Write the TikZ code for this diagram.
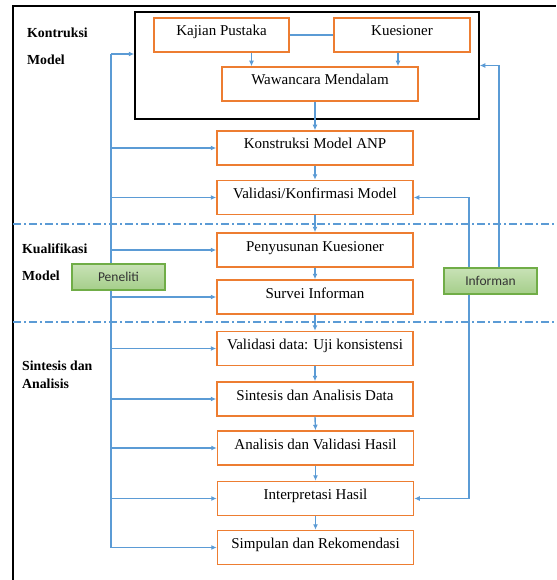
\documentclass[tikz,border=0pt]{standalone}
\usepackage{fontspec}
\setmainfont{Liberation Serif}
\newfontfamily\calib{Carlito}
\usetikzlibrary{arrows.meta}
\definecolor{orng}{RGB}{237,125,49}
\definecolor{blu}{RGB}{91,155,213}
\definecolor{grnb}{RGB}{112,173,71}
\definecolor{grnt}{RGB}{200,226,182}
\definecolor{grnm}{RGB}{165,206,138}
\tikzset{
  box/.style={draw=orng, line width=1.5pt, fill=white, minimum height=34pt, minimum width=196pt,
    inner xsep=2pt, inner ysep=0pt, text height=12pt, text depth=10pt,
    font=\fontsize{15}{17}\selectfont},
  gbox/.style={draw=grnb, line width=1.2pt, top color=grnt, bottom color=grnm,
    minimum width=93pt, minimum height=26pt, inner sep=0pt,
    font=\calib\fontsize{13.5}{15}\selectfont, text=black!80},
  lab/.style={anchor=base west, inner sep=0pt, font=\bfseries\fontsize{13.8}{15}\selectfont},
  bline/.style={draw=blu, line width=1.4pt},
  arr/.style={bline, -{Latex[length=5.5pt,width=5pt]}},
  sepline/.style={draw=blu, line width=1.1pt, dash pattern=on 8pt off 3pt on 2pt off 3pt}
}
\begin{document}
\begin{tikzpicture}[x=1pt,y=-1pt]
\useasboundingbox (0,0) rectangle (556,580);
% outer frame
\draw[line width=1.5pt] (13,580) -- (13,6) -- (556,6);
% separators
\draw[sepline] (13,224) -- (556,224);
\draw[sepline] (13,322) -- (556,322);
% labels
\node[lab] (l1) at (27,38) {Kontruksi};
\node[lab] (l2) at (27,65) {Model};
\node[lab] (l3) at (22,253) {Kualifikasi};
\node[lab] (l4) at (22,280) {Model};
\node[lab] (l5) at (22,370) {Sintesis dan};
\node[lab] (l6) at (22,388) {Analisis};
% inner box
\node[draw, line width=1.5pt, minimum width=344pt, minimum height=107pt, inner sep=0pt] (inner) at (307,65.5) {};
\node[box, minimum width=135pt] (kaj) at (221.5,35) {Kajian Pustaka};
\node[box, minimum width=136pt] (kues) at (402,35) {Kuesioner};
\node[box] (waw) at (320,84) {Wawancara Mendalam};
\draw[bline] (kaj.east) -- (kues.west);
\draw[arr] ([xshift=30pt]kaj.south) -- ([xshift=30pt]kaj.south |- waw.north);
\draw[arr] ([xshift=-4pt]kues.south) -- ([xshift=-4pt]kues.south |- waw.north);
% main column
\node[box] (konst) at (315,148) {Konstruksi Model ANP};
\node[box] (valid) at (315,197.5) {Validasi/Konfirmasi Model};
\node[box] (peny) at (315,250) {Penyusunan Kuesioner};
\node[box] (surv) at (315,297) {Survei Informan};
\node[box] (vdata) at (315,348.5) {Validasi data: Uji konsistensi};
\node[box] (sint) at (315,399) {Sintesis dan Analisis Data};
\node[box] (anal) at (315.5,448) {Analisis dan Validasi Hasil};
\node[box] (interp) at (315.5,498.5) {Interpretasi Hasil};
\node[box] (simp) at (315.5,547.5) {Simpulan dan Rekomendasi};
\draw[arr] (waw.south -| konst.north) -- (konst.north);
\draw[arr] (konst.south) -- (valid.north);
\draw[arr] (valid.south) -- (peny.north);
\draw[arr] (peny.south) -- (surv.north);
\draw[arr] (surv.south) -- (vdata.north);
\draw[arr] (vdata.south) -- (sint.north);
\draw[arr] (sint.south) -- (anal.north);
\draw[arr] (anal.south) -- (interp.north);
\draw[arr] (interp.south) -- (simp.north);
% Peneliti
\coordinate (ptop) at (111,54);
\draw[bline] (ptop) -- (ptop |- simp.west);
\draw[arr] (ptop) -- (ptop -| inner.west);
\foreach \n in {konst,valid,peny,surv,vdata,sint,anal,interp,simp}
  \draw[arr] (ptop |- \n.west) -- (\n.west);
\node[gbox] (pen) at (118.5,277) {Peneliti};
% Informan
\node[gbox] (inf) at (490.5,281) {Informan};
\draw[arr] ([xshift=8.5pt]inf.north) |- (inner.east);
\draw[arr] ([xshift=-21.5pt]inf.north) |- (valid.east);
\draw[arr] ([xshift=-21.5pt]inf.south) |- (interp.east);
\end{tikzpicture}
\end{document}
